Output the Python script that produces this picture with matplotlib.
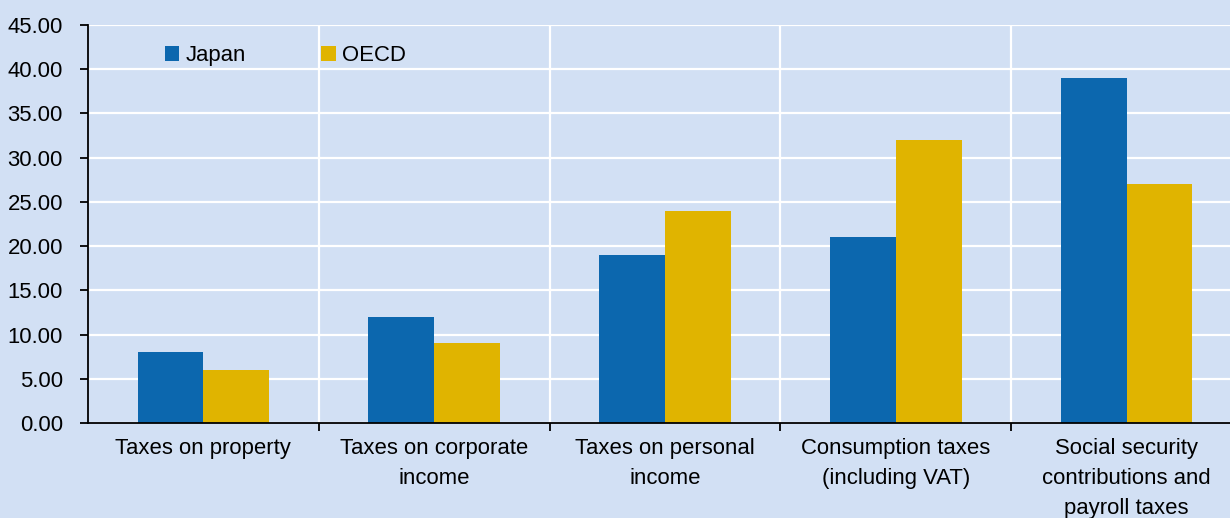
import matplotlib.pyplot as plt
import numpy as np

categories = ["Taxes on property", "Taxes on corporate\nincome", "Taxes on personal\nincome",
              "Consumption taxes\n(including VAT)", "Social security\ncontributions and\npayroll taxes"]
japan = [8, 12, 19, 21, 39]
oecd = [6, 9, 24, 32, 27]

bg = '#D2E0F4'
plt.rcParams['font.family'] = ['Liberation Sans', 'DejaVu Sans']

fig = plt.figure(figsize=(12.3, 5.18), dpi=100, facecolor=bg)
# axes run a bit past the right edge, like the original
ax = fig.add_axes([88 / 1230, 1 - 423 / 518, (1242 - 88) / 1230, (423 - 25) / 518])
ax.set_facecolor(bg)

x = np.arange(len(categories))
w = 0.285
ax.bar(x - w / 2, japan, w, color='#0C67AE', label='Japan', zorder=3)
ax.bar(x + w / 2, oecd, w, color='#E0B400', label='OECD', zorder=3)

ax.set_xlim(-0.5, len(categories) - 0.5)
ax.set_ylim(0, 45)
ax.set_yticks(np.arange(0, 46, 5))
ax.set_yticklabels([f"{v:.2f}" for v in np.arange(0, 46, 5)])

# boundaries as major ticks, labels on minor ticks at centres
ax.set_xticks(np.arange(0.5, len(categories) - 0.5, 1))
ax.set_xticklabels([])
ax.set_xticks(x, minor=True)
ax.set_xticklabels(categories, minor=True)
ax.tick_params(axis='x', which='minor', length=0, pad=11, labelsize=15.9)
ax.tick_params(axis='x', which='major', length=6, width=1.3, direction='out')
ax.tick_params(axis='y', length=6, width=1.3, pad=12, labelsize=15.9)
for lab in ax.get_xticklabels(minor=True):
    lab.set_linespacing(1.55)

ax.grid(True, which='major', color='white', linewidth=1.6, zorder=0)
ax.set_axisbelow(True)
for s in ['top', 'right']:
    ax.spines[s].set_visible(False)
for s in ['left', 'bottom']:
    ax.spines[s].set_linewidth(1.3)
    ax.spines[s].set_zorder(4)

ax.legend(loc='upper left', bbox_to_anchor=(165 / 1230, 1 - 45 / 518), bbox_transform=fig.transFigure,
          ncol=2, frameon=False, fontsize=15.9, handlelength=0.65, handleheight=0.65,
          handletextpad=0.3, columnspacing=3.4, borderpad=0, borderaxespad=0)

fig.savefig('out.png', dpi=100, facecolor=bg)
